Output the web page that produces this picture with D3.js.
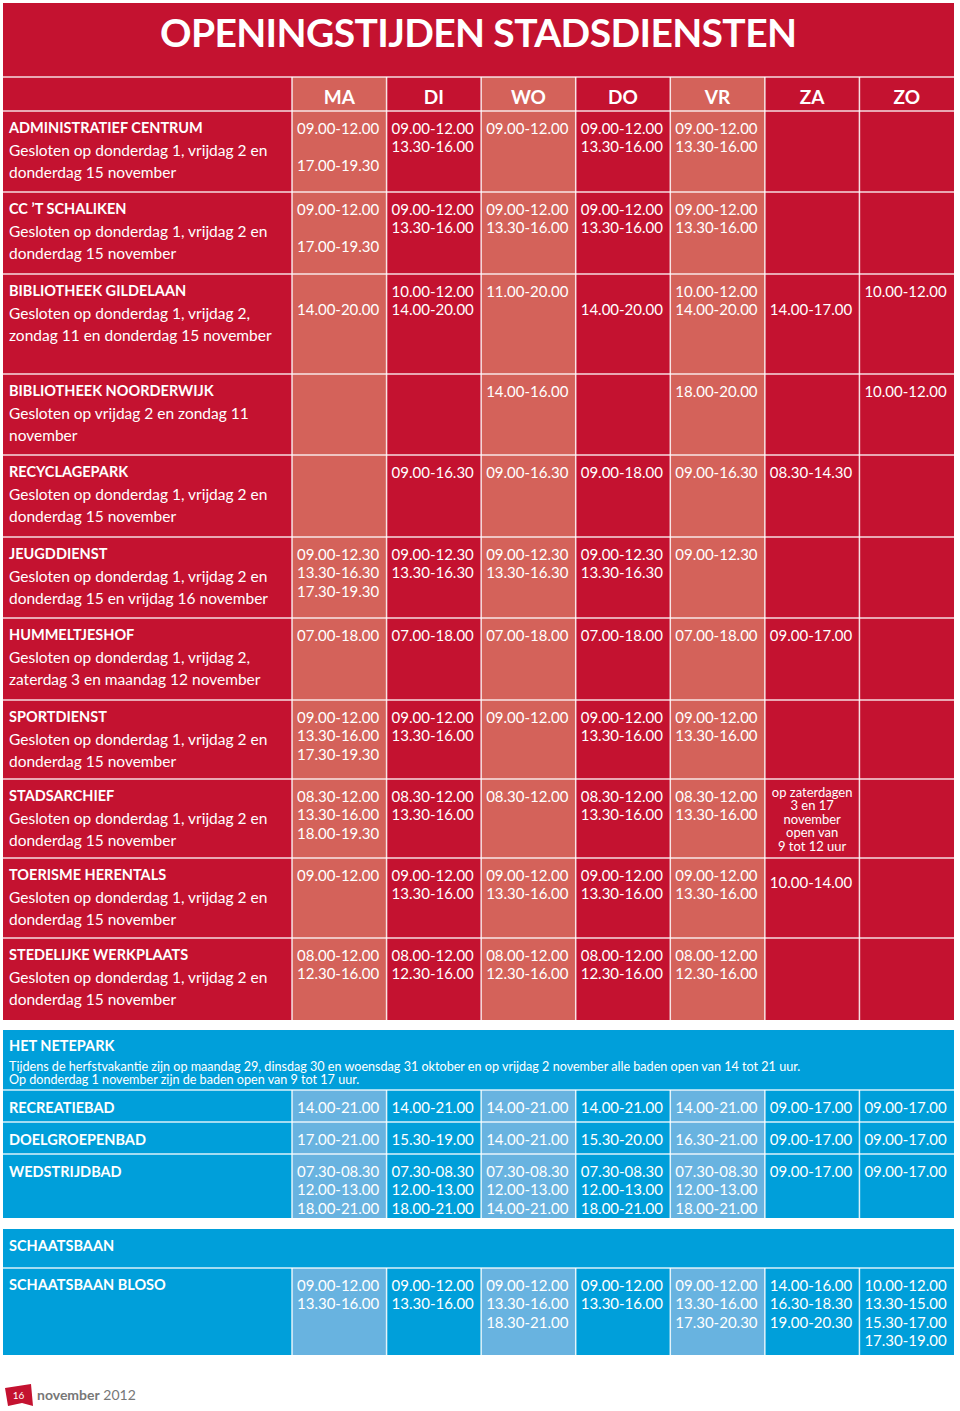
<!DOCTYPE html>
<html><head><meta charset="utf-8">
<script src="https://cdn.jsdelivr.net/npm/d3@7"></script>
<style>html,body{margin:0;padding:0;background:#fff}svg{display:block}</style>
</head><body>
<script>
// ---------- DATA ----------
const title = "OPENINGSTIJDEN STADSDIENSTEN";
const days = ["MA","DI","WO","DO","VR","ZA","ZO"];
const services = ["ADMINISTRATIEF CENTRUM","CC \u2019T SCHALIKEN","BIBLIOTHEEK GILDELAAN","BIBLIOTHEEK NOORDERWIJK","RECYCLAGEPARK","JEUGDDIENST","HUMMELTJESHOF","SPORTDIENST","STADSARCHIEF","TOERISME HERENTALS","STEDELIJKE WERKPLAATS"];
const closures = [
  ["Gesloten op donderdag 1, vrijdag 2 en","donderdag 15 november"],
  ["Gesloten op donderdag 1, vrijdag 2 en","donderdag 15 november"],
  ["Gesloten op donderdag 1, vrijdag 2,","zondag 11 en donderdag 15 november"],
  ["Gesloten op vrijdag 2 en zondag 11","november"],
  ["Gesloten op donderdag 1, vrijdag 2 en","donderdag 15 november"],
  ["Gesloten op donderdag 1, vrijdag 2 en","donderdag 15 en vrijdag 16 november"],
  ["Gesloten op donderdag 1, vrijdag 2,","zaterdag 3 en maandag 12 november"],
  ["Gesloten op donderdag 1, vrijdag 2 en","donderdag 15 november"],
  ["Gesloten op donderdag 1, vrijdag 2 en","donderdag 15 november"],
  ["Gesloten op donderdag 1, vrijdag 2 en","donderdag 15 november"],
  ["Gesloten op donderdag 1, vrijdag 2 en","donderdag 15 november"]
];
// hours per service, per day (MA..ZO); "" = empty line
const hours = [
  [["09.00-12.00","","17.00-19.30"],["09.00-12.00","13.30-16.00"],["09.00-12.00"],["09.00-12.00","13.30-16.00"],["09.00-12.00","13.30-16.00"],[],[]],
  [["09.00-12.00","","17.00-19.30"],["09.00-12.00","13.30-16.00"],["09.00-12.00","13.30-16.00"],["09.00-12.00","13.30-16.00"],["09.00-12.00","13.30-16.00"],[],[]],
  [["","14.00-20.00"],["10.00-12.00","14.00-20.00"],["11.00-20.00"],["","14.00-20.00"],["10.00-12.00","14.00-20.00"],["","14.00-17.00"],["10.00-12.00"]],
  [[],[],["14.00-16.00"],[],["18.00-20.00"],[],["10.00-12.00"]],
  [[],["09.00-16.30"],["09.00-16.30"],["09.00-18.00"],["09.00-16.30"],["08.30-14.30"],[]],
  [["09.00-12.30","13.30-16.30","17.30-19.30"],["09.00-12.30","13.30-16.30"],["09.00-12.30","13.30-16.30"],["09.00-12.30","13.30-16.30"],["09.00-12.30"],[],[]],
  [["07.00-18.00"],["07.00-18.00"],["07.00-18.00"],["07.00-18.00"],["07.00-18.00"],["09.00-17.00"],[]],
  [["09.00-12.00","13.30-16.00","17.30-19.30"],["09.00-12.00","13.30-16.00"],["09.00-12.00"],["09.00-12.00","13.30-16.00"],["09.00-12.00","13.30-16.00"],[],[]],
  [["08.30-12.00","13.30-16.00","18.00-19.30"],["08.30-12.00","13.30-16.00"],["08.30-12.00"],["08.30-12.00","13.30-16.00"],["08.30-12.00","13.30-16.00"],[],[]],
  [["09.00-12.00"],["09.00-12.00","13.30-16.00"],["09.00-12.00","13.30-16.00"],["09.00-12.00","13.30-16.00"],["09.00-12.00","13.30-16.00"],["10.00-14.00"],[]],
  [["08.00-12.00","12.30-16.00"],["08.00-12.00","12.30-16.00"],["08.00-12.00","12.30-16.00"],["08.00-12.00","12.30-16.00"],["08.00-12.00","12.30-16.00"],[],[]]
];
const archiefNote = ["op zaterdagen","3 en 17","november","open van","9 tot 12 uur"];

const poolTitle = "HET NETEPARK";
const poolNote = ["Tijdens de herfstvakantie zijn op maandag 29, dinsdag 30 en woensdag 31 oktober en op vrijdag 2 november alle baden open van 14 tot 21 uur.",
                  "Op donderdag 1 november zijn de baden open van 9 tot 17 uur."];
const pools = ["RECREATIEBAD","DOELGROEPENBAD","WEDSTRIJDBAD"];
const poolHours = [
  [["14.00-21.00"],["14.00-21.00"],["14.00-21.00"],["14.00-21.00"],["14.00-21.00"],["09.00-17.00"],["09.00-17.00"]],
  [["17.00-21.00"],["15.30-19.00"],["14.00-21.00"],["15.30-20.00"],["16.30-21.00"],["09.00-17.00"],["09.00-17.00"]],
  [["07.30-08.30","12.00-13.00","18.00-21.00"],["07.30-08.30","12.00-13.00","18.00-21.00"],["07.30-08.30","12.00-13.00","14.00-21.00"],["07.30-08.30","12.00-13.00","18.00-21.00"],["07.30-08.30","12.00-13.00","18.00-21.00"],["09.00-17.00"],["09.00-17.00"]]
];
const rinkTitle = "SCHAATSBAAN";
const rinks = ["SCHAATSBAAN BLOSO"];
const rinkHours = [
  [["09.00-12.00","13.30-16.00"],["09.00-12.00","13.30-16.00"],["09.00-12.00","13.30-16.00","18.30-21.00"],["09.00-12.00","13.30-16.00"],["09.00-12.00","13.30-16.00","17.30-20.30"],["14.00-16.00","16.30-18.30","19.00-20.30"],["10.00-12.00","13.30-15.00","15.30-17.00","17.30-19.00"]]
];
const footerPage = "16", footerMonth = "november", footerYear = "2012";

// ---------- LAYOUT ----------
const W = 960, H = 1411;
const L = 3, R = 954, colStart = 292;
const redTop = 3, headTop = 77, headBot = 111, redBot = 1020;
const redRowEdges = [111,192,274,374,455,537,618,700,779,858,938,1020];
const blueTop = 1030, poolRowEdges = [1090,1122,1154,1218];
const rinkTop = 1229, rinkRowEdges = [1268,1355];
const RED = "#c41230", RED_L = "#d4625a", BLUE = "#009fda", BLUE_L = "#68b3e0";
const FONT = "Lato, 'Open Sans', sans-serif";
const LINE = 18.5;

const x = d3.scaleBand().domain(days).range([colStart, R]).paddingInner(0).paddingOuter(0);
const lightDay = d => ["MA","WO","VR"].includes(d);

const svg = d3.select("body").append("svg").attr("width", W).attr("height", H)
  .style("font-family", FONT);

// ---------- RED BLOCK ----------
svg.append("rect").attr("x", L).attr("y", redTop).attr("width", R - L).attr("height", redBot - redTop).attr("fill", RED);
days.forEach(d => {
  if (lightDay(d)) svg.append("rect").attr("x", x(d)).attr("y", headTop).attr("width", x.bandwidth()).attr("height", redBot - headTop).attr("fill", RED_L);
});
svg.append("text").attr("x", 160).attr("y", 47).attr("fill", "#fff")
  .attr("font-size", 39).attr("font-weight", 700).attr("textLength", 637).attr("lengthAdjust", "spacing")
  .text(title);

const grid = svg.append("g").attr("stroke", "#fff").attr("stroke-opacity", 0.85).attr("stroke-width", 1.5);
[headTop].concat(redRowEdges.slice(0, -1)).forEach(yv => grid.append("line").attr("x1", L).attr("x2", R).attr("y1", yv).attr("y2", yv));
[colStart].concat(days.slice(1).map(d => x(d))).forEach(xv => grid.append("line").attr("x1", xv).attr("x2", xv).attr("y1", headTop).attr("y2", redBot));

svg.append("g").selectAll("text").data(days).join("text")
  .attr("x", d => x(d) + x.bandwidth() / 2).attr("y", 103.5).attr("text-anchor", "middle")
  .attr("fill", "#fff").attr("font-size", 19).attr("font-weight", 700).text(d => d);

function drawCells(g, rowsHours, edges, shift) {
  rowsHours.forEach((row, i) => {
    row.forEach((lines, j) => {
      const dy = shift ? shift(i, j) : 0;
      lines.forEach((t, k) => {
        if (!t) return;
        g.append("text").attr("x", x(days[j]) + 5).attr("y", edges[i] + 22.5 + k * LINE + dy)
          .attr("fill", "#fff").attr("font-size", 15).text(t);
      });
    });
  });
}

const redG = svg.append("g");
services.forEach((s, i) => {
  const top = redRowEdges[i];
  redG.append("text").attr("x", 9).attr("y", top + 22).attr("fill", "#fff").attr("font-size", 14.5).attr("font-weight", 700).text(s);
  closures[i].forEach((c, k) => redG.append("text").attr("x", 9).attr("y", top + 44.5 + k * 22.5).attr("fill", "#fff").attr("font-size", 15.5).text(c));
});
drawCells(redG, hours, redRowEdges, (i, j) => (i === 9 && j === 5) ? 7 : 0);
archiefNote.forEach((t, k) => redG.append("text").attr("x", x("ZA") + x.bandwidth() / 2).attr("y", redRowEdges[8] + 18 + k * 13.4)
  .attr("text-anchor", "middle").attr("fill", "#fff").attr("font-size", 13).text(t));

// ---------- BLUE: NETEPARK ----------
svg.append("rect").attr("x", L).attr("y", blueTop).attr("width", R - L).attr("height", poolRowEdges[3] - blueTop).attr("fill", BLUE);
days.forEach(d => {
  if (lightDay(d)) svg.append("rect").attr("x", x(d)).attr("y", poolRowEdges[0]).attr("width", x.bandwidth()).attr("height", poolRowEdges[3] - poolRowEdges[0]).attr("fill", BLUE_L);
});
const bgrid = svg.append("g").attr("stroke", "#fff").attr("stroke-opacity", 0.85).attr("stroke-width", 1.5);
poolRowEdges.slice(0, 3).forEach(yv => bgrid.append("line").attr("x1", L).attr("x2", R).attr("y1", yv).attr("y2", yv));
[colStart].concat(days.slice(1).map(d => x(d))).forEach(xv => bgrid.append("line").attr("x1", xv).attr("x2", xv).attr("y1", poolRowEdges[0]).attr("y2", poolRowEdges[3]));

const blueG = svg.append("g");
blueG.append("text").attr("x", 9).attr("y", 1050.5).attr("fill", "#fff").attr("font-size", 14.5).attr("font-weight", 700).text(poolTitle);
poolNote.forEach((t, k) => blueG.append("text").attr("x", 9).attr("y", 1071 + k * 13).attr("fill", "#fff").attr("font-size", 12.6).text(t));
pools.forEach((p, i) => blueG.append("text").attr("x", 9).attr("y", poolRowEdges[i] + 22.5).attr("fill", "#fff").attr("font-size", 14.5).attr("font-weight", 700).text(p));
drawCells(blueG, poolHours, poolRowEdges, null);

// ---------- BLUE: SCHAATSBAAN ----------
svg.append("rect").attr("x", L).attr("y", rinkTop).attr("width", R - L).attr("height", rinkRowEdges[1] - rinkTop).attr("fill", BLUE);
days.forEach(d => {
  if (lightDay(d)) svg.append("rect").attr("x", x(d)).attr("y", rinkRowEdges[0]).attr("width", x.bandwidth()).attr("height", rinkRowEdges[1] - rinkRowEdges[0]).attr("fill", BLUE_L);
});
const rgrid = svg.append("g").attr("stroke", "#fff").attr("stroke-opacity", 0.85).attr("stroke-width", 1.5);
rgrid.append("line").attr("x1", L).attr("x2", R).attr("y1", rinkRowEdges[0]).attr("y2", rinkRowEdges[0]);
[colStart].concat(days.slice(1).map(d => x(d))).forEach(xv => rgrid.append("line").attr("x1", xv).attr("x2", xv).attr("y1", rinkRowEdges[0]).attr("y2", rinkRowEdges[1]));
const rinkG = svg.append("g");
rinkG.append("text").attr("x", 9).attr("y", 1250.5).attr("fill", "#fff").attr("font-size", 14.5).attr("font-weight", 700).text(rinkTitle);
rinks.forEach((p, i) => rinkG.append("text").attr("x", 9).attr("y", rinkRowEdges[i] + 21.5).attr("fill", "#fff").attr("font-size", 14.5).attr("font-weight", 700).text(p));
drawCells(rinkG, rinkHours, rinkRowEdges, null);

// ---------- FOOTER ----------
svg.append("path").attr("d", "M5,1388 L31,1384 L33,1406 L22,1403 L8,1406 Z").attr("fill", RED);
svg.append("text").attr("x", 18.5).attr("y", 1399).attr("text-anchor", "middle").attr("fill", "#fff").attr("font-size", 10).text(footerPage);
const ft = svg.append("text").attr("x", 37).attr("y", 1400).attr("fill", "#777").attr("font-size", 14);
ft.append("tspan").attr("font-weight", 700).text(footerMonth);
ft.append("tspan").text(" " + footerYear);
</script>
</body></html>
